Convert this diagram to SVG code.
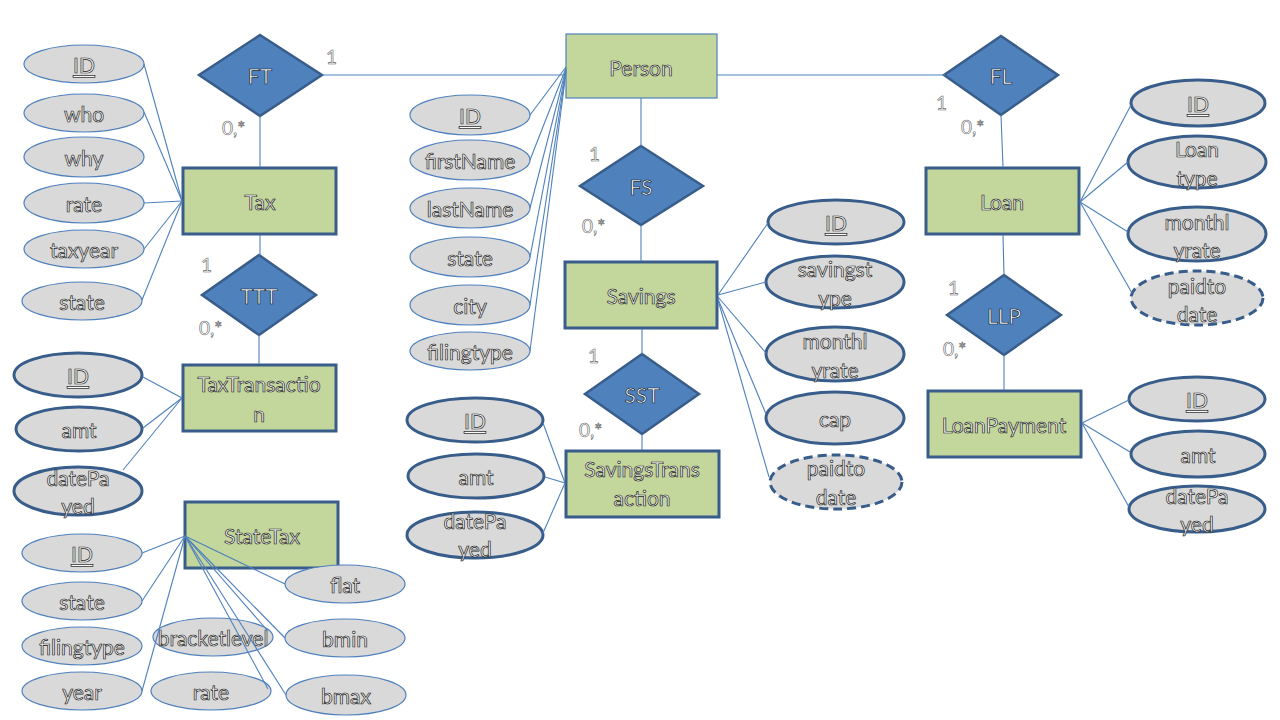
<svg xmlns="http://www.w3.org/2000/svg" width="1280" height="720" viewBox="0 0 1280 720">
<style>
text{font-family:Lato,"Noto Sans","Liberation Sans",sans-serif;font-size:21px;text-anchor:middle;dominant-baseline:central;fill:#fafafa;stroke:#1a1a1a;stroke-width:0.7px;}
.card{text-anchor:start;font-size:19px;fill:#fff;stroke:#666;stroke-width:0.6px;}
.ent{fill:#C3D69B;stroke:#385D8A;stroke-width:3;}
.ent1{fill:#C3D69B;stroke:#4F81BD;stroke-width:1.2;}
.rel{fill:#4F81BD;stroke:#385D8A;stroke-width:2.5;}
.att{fill:#D9D9D9;stroke:#4F81BD;stroke-width:1.2;}
.attk{fill:#D9D9D9;stroke:#385D8A;stroke-width:3;}
.attd{fill:#D9D9D9;stroke:#385D8A;stroke-width:3;stroke-dasharray:9 5;}
.rel text{fill:#fff;stroke:#0d1a2a;stroke-width:0.7px;}
#connectors line{stroke:#4F81BD;stroke-width:1.1;}
.u{text-decoration:underline;}
</style>
<rect width="1280" height="720" fill="#fff"/>
<g id="cardinalities">
<text class="card" x="326" y="56">1</text>
<text class="card" x="222" y="127">0,*</text>
<text class="card" x="201" y="264">1</text>
<text class="card" x="199" y="327">0,*</text>
<text class="card" x="589" y="153">1</text>
<text class="card" x="582" y="225">0,*</text>
<text class="card" x="588" y="355">1</text>
<text class="card" x="579" y="429">0,*</text>
<text class="card" x="936" y="102">1</text>
<text class="card" x="961" y="126">0,*</text>
<text class="card" x="948" y="287">1</text>
<text class="card" x="943" y="348">0,*</text>
</g>
<g id="FT" class="rel"><polygon points="260,35 322,75 260,116 199,75"/><text x="260" y="75">FT</text></g>
<g id="TTT" class="rel"><polygon points="259,255 316,295 259,335 202,295"/><text x="259" y="295">TTT</text></g>
<g id="FS" class="rel"><polygon points="641,146 703,186 641,225 580,186"/><text x="641" y="186">FS</text></g>
<g id="SST" class="rel"><polygon points="642,354 699,394 642,434 585,394"/><text x="642" y="394">SST</text></g>
<g id="FL" class="rel"><polygon points="1001,36 1058,75 1001,115 944,75"/><text x="1001" y="75">FL</text></g>
<g id="LLP" class="rel"><polygon points="1004,275 1061,315 1004,355 947,315"/><text x="1004" y="315">LLP</text></g>
<g id="Person"><rect class="ent1" x="566" y="34" width="151" height="64"/><text x="641" y="67">Person</text></g>
<g id="Tax"><rect class="ent" x="183" y="168" width="153" height="66"/><text x="260" y="201">Tax</text></g>
<g id="TaxTransaction"><rect class="ent" x="183" y="365" width="153" height="66"/><text x="259" y="383">TaxTransactio</text><text x="259" y="413">n</text></g>
<g id="StateTax"><rect class="ent" x="185" y="502" width="153" height="66"/><text x="262" y="535">StateTax</text></g>
<g id="Savings"><rect class="ent" x="565" y="262" width="152" height="66"/><text x="641" y="295">Savings</text></g>
<g id="SavingsTransaction"><rect class="ent" x="566" y="451" width="153" height="66"/><text x="642" y="468">SavingsTrans</text><text x="642" y="497">action</text></g>
<g id="Loan"><rect class="ent" x="926" y="168" width="153" height="66"/><text x="1002" y="201">Loan</text></g>
<g id="LoanPayment"><rect class="ent" x="928" y="391" width="153" height="66"/><text x="1004" y="424">LoanPayment</text></g>
<g id="Tax_ID"><ellipse class="att" cx="84" cy="64" rx="60" ry="19"/><text class="u" x="84" y="64">ID</text></g>
<g id="Tax_who"><ellipse class="att" cx="84" cy="113" rx="60" ry="19"/><text x="84" y="113">who</text></g>
<g id="Tax_why"><ellipse class="att" cx="84" cy="157" rx="60" ry="20"/><text x="84" y="157">why</text></g>
<g id="Tax_rate"><ellipse class="att" cx="84" cy="203" rx="60" ry="20"/><text x="84" y="203">rate</text></g>
<g id="Tax_taxyear"><ellipse class="att" cx="84" cy="249" rx="60" ry="19"/><text x="84" y="249">taxyear</text></g>
<g id="Tax_state"><ellipse class="att" cx="82" cy="301" rx="60" ry="19"/><text x="82" y="301">state</text></g>
<g id="TT_ID"><ellipse class="attk" cx="78" cy="375" rx="64" ry="22"/><text class="u" x="78" y="375">ID</text></g>
<g id="TT_amt"><ellipse class="attk" cx="79" cy="429" rx="63" ry="22"/><text x="79" y="429">amt</text></g>
<g id="TT_datePayed"><ellipse class="attk" cx="78" cy="491" rx="64" ry="24"/><text x="78" y="477">datePa</text><text x="78" y="505">yed</text></g>
<g id="ST_ID"><ellipse class="att" cx="82" cy="553" rx="60" ry="19"/><text class="u" x="82" y="553">ID</text></g>
<g id="ST_state"><ellipse class="att" cx="82" cy="601" rx="60" ry="19"/><text x="82" y="601">state</text></g>
<g id="ST_filingtype"><ellipse class="att" cx="82" cy="646" rx="60" ry="19"/><text x="82" y="646">filingtype</text></g>
<g id="ST_year"><ellipse class="att" cx="82" cy="691" rx="60" ry="19"/><text x="82" y="691">year</text></g>
<g id="ST_bracketlevel"><ellipse class="att" cx="213" cy="637" rx="60" ry="19"/><text x="213" y="637">bracketlevel</text></g>
<g id="ST_rate"><ellipse class="att" cx="211" cy="691" rx="60" ry="19"/><text x="211" y="691">rate</text></g>
<g id="ST_flat"><ellipse class="att" cx="345" cy="584" rx="60" ry="19"/><text x="345" y="584">flat</text></g>
<g id="ST_bmin"><ellipse class="att" cx="345" cy="638" rx="60" ry="19"/><text x="345" y="638">bmin</text></g>
<g id="ST_bmax"><ellipse class="att" cx="346" cy="695" rx="60" ry="20"/><text x="346" y="695">bmax</text></g>
<g id="P_ID"><ellipse class="att" cx="470" cy="115" rx="60" ry="20"/><text class="u" x="470" y="115">ID</text></g>
<g id="P_firstName"><ellipse class="att" cx="470" cy="160" rx="60" ry="20"/><text x="470" y="160">firstName</text></g>
<g id="P_lastName"><ellipse class="att" cx="470" cy="208" rx="60" ry="20"/><text x="470" y="208">lastName</text></g>
<g id="P_state"><ellipse class="att" cx="470" cy="257" rx="60" ry="20"/><text x="470" y="257">state</text></g>
<g id="P_city"><ellipse class="att" cx="470" cy="305" rx="60" ry="20"/><text x="470" y="305">city</text></g>
<g id="P_filingtype"><ellipse class="att" cx="470" cy="351" rx="60" ry="19"/><text x="470" y="351">filingtype</text></g>
<g id="SvT_ID"><ellipse class="attk" cx="475" cy="420" rx="68" ry="22"/><text class="u" x="475" y="420">ID</text></g>
<g id="SvT_amt"><ellipse class="attk" cx="476" cy="476" rx="68" ry="22"/><text x="476" y="476">amt</text></g>
<g id="SvT_datePayed"><ellipse class="attk" cx="475" cy="535" rx="68" ry="23"/><text x="475" y="520">datePa</text><text x="475" y="548">yed</text></g>
<g id="S_ID"><ellipse class="attk" cx="836" cy="222" rx="68" ry="22"/><text class="u" x="836" y="222">ID</text></g>
<g id="S_savingstype"><ellipse class="attk" cx="835" cy="282" rx="69" ry="26"/><text x="835" y="268">savingst</text><text x="835" y="297">ype</text></g>
<g id="S_monthlyrate"><ellipse class="attk" cx="835" cy="354" rx="69" ry="27"/><text x="835" y="340">monthl</text><text x="835" y="369">yrate</text></g>
<g id="S_cap"><ellipse class="attk" cx="835" cy="418" rx="69" ry="26"/><text x="835" y="418">cap</text></g>
<g id="S_paidtodate"><ellipse class="attd" cx="836" cy="482" rx="66" ry="27"/><text x="836" y="467">paidto</text><text x="836" y="496">date</text></g>
<g id="L_ID"><ellipse class="attk" cx="1198" cy="103" rx="67" ry="23"/><text class="u" x="1198" y="103">ID</text></g>
<g id="L_Loantype"><ellipse class="attk" cx="1197" cy="162" rx="69" ry="26"/><text x="1197" y="148">Loan</text><text x="1197" y="177">type</text></g>
<g id="L_monthlyrate"><ellipse class="attk" cx="1197" cy="234" rx="69" ry="27"/><text x="1197" y="221">monthl</text><text x="1197" y="249">yrate</text></g>
<g id="L_paidtodate"><ellipse class="attd" cx="1197" cy="298" rx="66" ry="27"/><text x="1197" y="285">paidto</text><text x="1197" y="313">date</text></g>
<g id="LP_ID"><ellipse class="attk" cx="1197" cy="399" rx="68" ry="22"/><text class="u" x="1197" y="399">ID</text></g>
<g id="LP_amt"><ellipse class="attk" cx="1198" cy="454" rx="67" ry="23"/><text x="1198" y="454">amt</text></g>
<g id="LP_datePayed"><ellipse class="attk" cx="1197" cy="509" rx="68" ry="23"/><text x="1197" y="495">datePa</text><text x="1197" y="523">yed</text></g>
<g id="connectors">
<line x1="260" y1="116" x2="260" y2="167"/>
<line x1="322" y1="75" x2="566" y2="75"/>
<line x1="260" y1="235" x2="260" y2="255"/>
<line x1="259" y1="335" x2="259" y2="364"/>
<line x1="144" y1="64" x2="182" y2="201"/>
<line x1="144" y1="112" x2="182" y2="201"/>
<line x1="144" y1="203" x2="182" y2="201"/>
<line x1="144" y1="249" x2="182" y2="201"/>
<line x1="142" y1="300" x2="182" y2="201"/>
<line x1="143" y1="377" x2="182" y2="398"/>
<line x1="143" y1="428" x2="182" y2="398"/>
<line x1="123" y1="470" x2="182" y2="398"/>
<line x1="142" y1="553" x2="185" y2="536"/>
<line x1="142" y1="601" x2="185" y2="536"/>
<line x1="142" y1="691" x2="185" y2="536"/>
<line x1="285" y1="584" x2="185" y2="536"/>
<line x1="285" y1="638" x2="185" y2="536"/>
<line x1="286" y1="695" x2="185" y2="536"/>
<line x1="267" y1="630" x2="185" y2="536"/>
<line x1="268" y1="689" x2="185" y2="536"/>
<line x1="530" y1="115" x2="566" y2="67"/>
<line x1="530" y1="160" x2="566" y2="68"/>
<line x1="530" y1="208" x2="566" y2="69"/>
<line x1="530" y1="257" x2="566" y2="70"/>
<line x1="530" y1="305" x2="566" y2="71"/>
<line x1="530" y1="351" x2="566" y2="72"/>
<line x1="717" y1="75" x2="945" y2="75"/>
<line x1="641" y1="98" x2="641" y2="146"/>
<line x1="641" y1="225" x2="641" y2="261"/>
<line x1="642" y1="329" x2="642" y2="354"/>
<line x1="642" y1="434" x2="642" y2="450"/>
<line x1="718" y1="295" x2="768" y2="223"/>
<line x1="718" y1="295" x2="766" y2="282"/>
<line x1="718" y1="297" x2="766" y2="353"/>
<line x1="718" y1="299" x2="766" y2="414"/>
<line x1="718" y1="300" x2="769" y2="477"/>
<line x1="543" y1="423" x2="565" y2="483"/>
<line x1="545" y1="477" x2="565" y2="483"/>
<line x1="543" y1="533" x2="565" y2="483"/>
<line x1="1001" y1="115" x2="1003" y2="167"/>
<line x1="1003" y1="235" x2="1004" y2="275"/>
<line x1="1004" y1="355" x2="1004" y2="390"/>
<line x1="1080" y1="202" x2="1131" y2="105"/>
<line x1="1080" y1="202" x2="1128" y2="162"/>
<line x1="1080" y1="202" x2="1128" y2="232"/>
<line x1="1080" y1="202" x2="1132" y2="293"/>
<line x1="1082" y1="423" x2="1129" y2="400"/>
<line x1="1082" y1="423" x2="1130" y2="452"/>
<line x1="1082" y1="423" x2="1129" y2="507"/>
</g>
</svg>
